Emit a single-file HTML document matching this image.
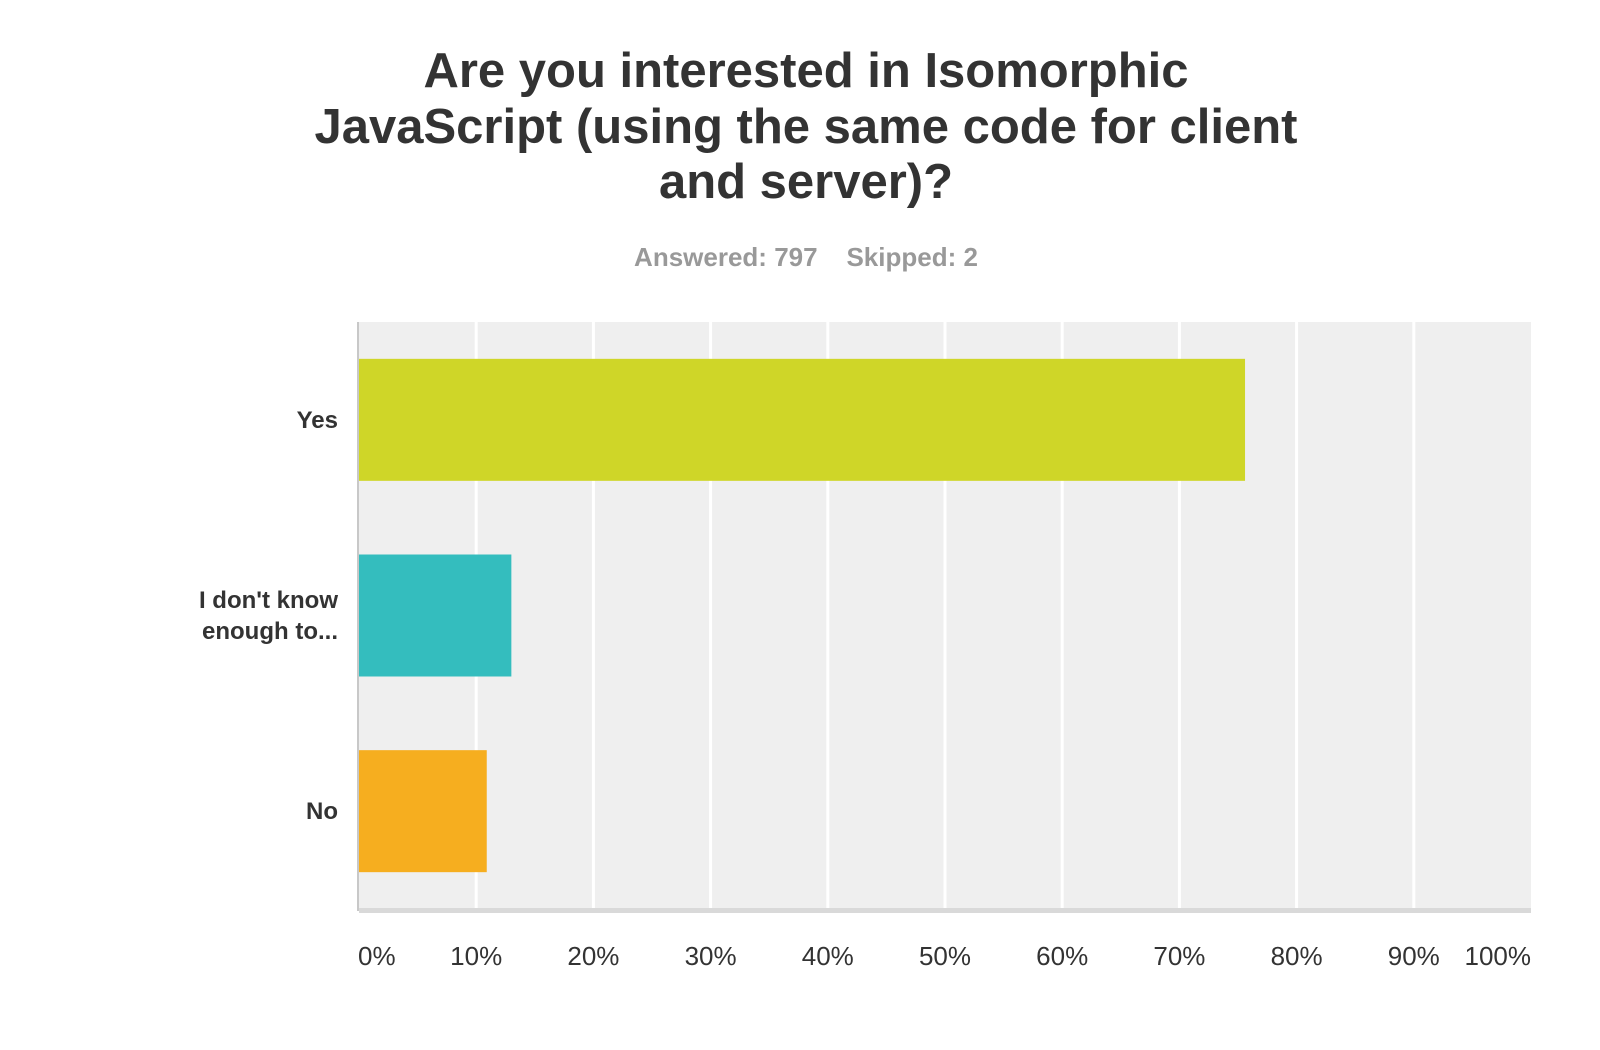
<!DOCTYPE html>
<html><head><meta charset="utf-8"><style>
body{margin:0;background:#fff;width:1600px;height:1045px;overflow:hidden;font-family:"Liberation Sans",Arial,sans-serif;}
</style></head><body>
<svg width="1600" height="1045">
<g font-size="49" font-weight="bold" fill="#333" text-anchor="middle">
<text x="806" y="87">Are you interested in Isomorphic</text>
<text x="806" y="143">JavaScript (using the same code for client</text>
<text x="806" y="198">and server)?</text>
</g>
<text x="806" y="266" font-size="26" font-weight="bold" fill="#999" text-anchor="middle">Answered: 797&#160;&#160;&#160;&#160;Skipped: 2</text>
<g id="plot"></g>
</svg>
<script>
const categories=["Yes","I don't know|enough to...","No"];
const values=[75.6,13.0,10.9];
const colors=["#cfd628","#34bdbe","#f6ae1f"];
const ticks=[0,10,20,30,40,50,60,70,80,90,100];
const NS="http://www.w3.org/2000/svg";
const L=359,R=1531,T=322,B=909,row=(B-T)/categories.length,barH=122;
const x=v=>L+(R-L)*v/100;
const g=document.getElementById('plot');
function mk(t,a){const e=document.createElementNS(NS,t);for(const k in a)e.setAttribute(k,a[k]);g.appendChild(e);return e;}
let bg=mk('rect',{x:L,y:T,width:R-L,height:B-T,fill:'#efefef'});


ticks.forEach(t=>{
 if(t>0&&t<100){let l=mk('line',{x1:x(t),x2:x(t),y1:T,y2:B,stroke:'#fff','stroke-width':3});
 
 }
 let tx=mk('text',{x:t==100?R:x(t)+(t==0?-1:0),y:965,'font-size':26,fill:'#333','text-anchor':t==100?'end':(t==0?'start':'middle')});
 tx.textContent=t+'%';
 
 
});
categories.forEach((c,i)=>{
 const cy=T+row*i+row/2;
 let r=mk('rect',{x:L,y:cy-barH/2,width:x(values[i])-L,height:barH,fill:colors[i]});
 
 
 const lines=c.split('|');
 lines.forEach((s,j)=>{
  let tx=mk('text',{x:338,y:cy+8+(j-(lines.length-1)/2)*31,'font-size':24,'font-weight':'bold',fill:'#333','text-anchor':'end'});
  tx.textContent=s;
  
  
 });
});
let ax=mk('rect',{x:357,y:T,width:2,height:B-T+2,fill:'#c8c8c8'});


let bx=mk('rect',{x:L,y:B-1,width:R-L,height:5,fill:'#d9d9d9'});


</script>
</body></html>
